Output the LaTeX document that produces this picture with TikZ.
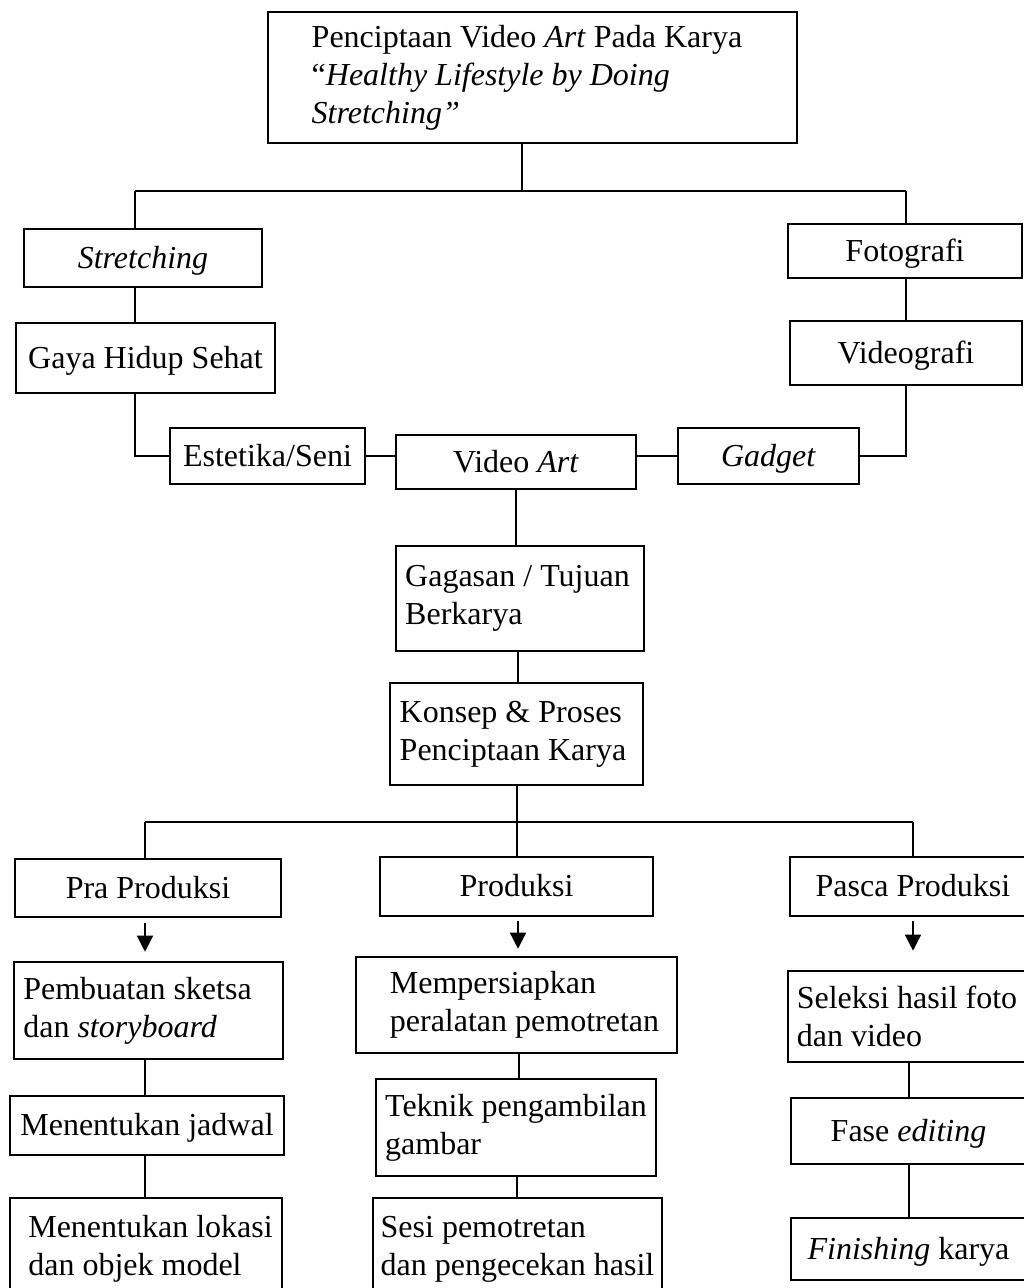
\documentclass[tikz,border=0pt]{standalone}
\usepackage{fontspec}
\setmainfont{Liberation Serif}
\usetikzlibrary{arrows.meta}
\begin{document}
\begin{tikzpicture}[x=1pt,y=-1pt,
  box/.style={draw, line width=2.6pt, align=left, inner sep=0pt,
              font=\fontsize{32}{38}\selectfont},
  cbox/.style={box, align=center, text height=23pt, text depth=3pt},
  conn/.style={line width=1.4pt},
  arr/.style={line width=1.4pt, -{Triangle[width=16pt,length=16pt]}}]
\useasboundingbox (0,0) rectangle (1024,1288);

% ---- boxes ----
\node[box, minimum width=529pt, minimum height=131pt] (top) at (532.5,77.5)
  {Penciptaan Video \textit{Art} Pada Karya\hspace*{11pt}\\
   “\textit{Healthy Lifestyle by Doing}\\
   \textit{Stretching”}};
\node[cbox, minimum width=238pt, minimum height=58pt] (stretch) at (143,258) {\textit{Stretching}};
\node[cbox, minimum width=234pt, minimum height=54pt] (foto) at (905,251) {Fotografi};
\node[cbox, minimum width=259pt, minimum height=70pt] (gaya) at (145.5,358) {Gaya Hidup Sehat};
\node[cbox, minimum width=232pt, minimum height=64pt] (videog) at (906,353) {Videografi};
\node[cbox, minimum width=195pt, minimum height=56pt] (estetika) at (267.5,456) {Estetika/Seni};
\node[cbox, minimum width=240pt, minimum height=54pt] (vart) at (516,462) {Video \textit{Art}};
\node[cbox, minimum width=181pt, minimum height=56pt] (gadget) at (768.5,456) {\textit{Gadget}};
\node[box, minimum width=248pt, minimum height=105pt] (gagasan) at (520,598.5)
  {Gagasan / Tujuan\hspace*{5pt}\\ Berkarya};
\node[box, minimum width=253pt, minimum height=102pt] (konsep) at (516.5,734)
  {Konsep \& Proses\\ Penciptaan Karya\hspace*{7pt}};
\node[cbox, minimum width=266pt, minimum height=58pt] (pra) at (148,888) {Pra Produksi};
\node[cbox, minimum width=273pt, minimum height=59pt] (prod) at (516.5,886.5) {Produksi};
\node[cbox, minimum width=236pt, minimum height=59pt] (pasca) at (908,886.5) {\hspace*{10pt}Pasca Produksi};
\node[box, minimum width=269pt, minimum height=97pt] (pemb) at (148.5,1010.5)
  {Pembuatan sketsa\hspace*{22pt}\\ dan \textit{storyboard}};
\node[cbox, minimum width=274pt, minimum height=59pt] (jadwal) at (147,1125.5) {Menentukan jadwal};
\node[box, minimum width=272pt, minimum height=102pt] (lokasi) at (146,1249)
  {\hspace*{9pt}Menentukan lokasi\\ \hspace*{9pt}dan objek model};
\node[box, minimum width=321pt, minimum height=96pt] (memp) at (516.5,1005)
  {\hspace*{16pt}Mempersiapkan\\ \hspace*{16pt}peralatan pemotretan};
\node[box, minimum width=280pt, minimum height=97pt] (teknik) at (516,1127.5)
  {Teknik pengambilan\\ gambar};
\node[box, minimum width=289pt, minimum height=102pt] (sesi) at (517.5,1249)
  {Sesi pemotretan\\ dan pengecekan hasil};
\node[box, minimum width=238pt, minimum height=91pt] (seleksi) at (907,1016.5)
  {Seleksi hasil foto\\ dan video};
\node[cbox, minimum width=235pt, minimum height=66pt] (fase) at (908.5,1131) {Fase \textit{editing}};
\node[cbox, minimum width=235pt, minimum height=62pt] (finish) at (908.5,1249) {\textit{Finishing} karya};

% ---- junction coordinates ----
\coordinate (j1) at (522,191);
\coordinate (jL) at (135,191);
\coordinate (jR) at (906,191);
\coordinate (j2) at (517,822);
\coordinate (kL) at (145,822);
\coordinate (kR) at (913,822);
\coordinate (gk) at (518,0);

% ---- connectors: upper part ----
\draw[conn] (top.south -| j1) -- (j1);
\draw[conn] (jL) -- (jR);
\draw[conn] (jL) -- (jL |- stretch.north);
\draw[conn] (jR) -- (jR |- foto.north);
\draw[conn] (jL |- stretch.south) -- (jL |- gaya.north);
\draw[conn] (jL |- gaya.south) |- (estetika.west);
\draw[conn] (estetika.east) -- (estetika.east -| vart.west);
\draw[conn] (gadget.west -| vart.east) -- (gadget.west);
\draw[conn] (jR |- foto.south) -- (jR |- videog.north);
\draw[conn] (jR |- videog.south) |- (gadget.east);
\draw[conn] (vart.south) -- (vart.south |- gagasan.north);
\draw[conn] (gk |- gagasan.south) -- (gk |- konsep.north);

% ---- connectors: lower part ----
\draw[conn] (konsep.south -| j2) -- (j2);
\draw[conn] (kL) -- (kR);
\draw[conn] (kL) -- (kL |- pra.north);
\draw[conn] (j2) -- (j2 |- prod.north);
\draw[conn] (kR) -- (kR |- pasca.north);

\draw[arr] ([yshift=-5pt]kL |- pra.south) -- ([yshift=9pt]kL |- pemb.north);
\draw[arr] ([yshift=-4pt]gk |- prod.south) -- ([yshift=7pt]gk |- memp.north);
\draw[arr] ([yshift=-4pt]kR |- pasca.south) -- ([yshift=19pt]kR |- seleksi.north);

\draw[conn] (kL |- pemb.south) -- (kL |- jadwal.north);
\draw[conn] (kL |- jadwal.south) -- (kL |- lokasi.north);
\draw[conn] (memp.south -| 519,0) -- (teknik.north -| 519,0);
\draw[conn] (teknik.south -| 517,0) -- (sesi.north -| 517,0);
\draw[conn] (seleksi.south -| 909,0) -- (fase.north -| 909,0);
\draw[conn] (fase.south -| 909,0) -- (finish.north -| 909,0);
\end{tikzpicture}
\end{document}
